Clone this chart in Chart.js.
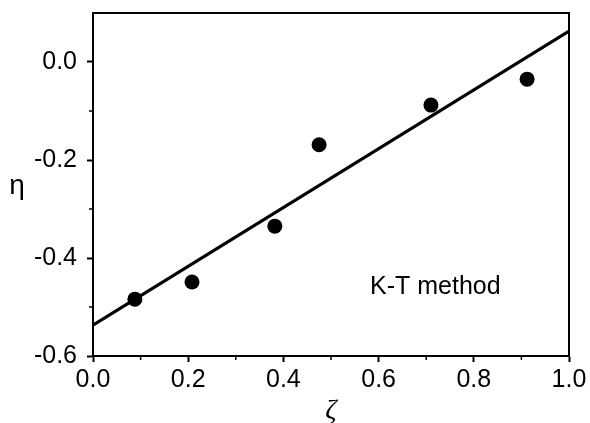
<!DOCTYPE html>
<html>
<head>
<meta charset="utf-8">
<script src="https://cdn.jsdelivr.net/npm/chart.js@4/dist/chart.umd.min.js"></script>
<style>
html,body{margin:0;padding:0;background:#fff;}
#wrap{width:590px;height:423px;}
</style>
</head>
<body>
<div id="wrap"><canvas id="c" width="590" height="423"></canvas></div>
<script>
const zeta = [0.088, 0.208, 0.382, 0.475, 0.710, 0.912];
const eta = [-0.484, -0.449, -0.335, -0.169, -0.088, -0.035];
const fitZeta = [0, 1];
const fitEta = [-0.537, 0.063];
const xTicks = [0.0, 0.2, 0.4, 0.6, 0.8, 1.0];
const xMinor = [0.1, 0.3, 0.5, 0.7, 0.9];
const yTicks = [-0.6, -0.4, -0.2, 0.0];
const yMinor = [-0.5, -0.3, -0.1];
const xLabel = 'ζ';
const yLabel = 'η';
const note = 'K-T method';

const fmt = v => (Math.abs(v) < 1e-9 ? 0 : v).toFixed(1);
const tickFont = {family: '"Liberation Sans", Arial, sans-serif', size: 25};

const extras = {
  id: 'extras',
  afterDraw(chart) {
    const ctx = chart.ctx, a = chart.chartArea;
    const xs = chart.scales.x, ys = chart.scales.y;
    ctx.save();
    ctx.strokeStyle = '#000';
    ctx.lineWidth = 2;
    ctx.beginPath();
    ctx.moveTo(a.left, a.top); ctx.lineTo(a.right, a.top); ctx.lineTo(a.right, a.bottom);
    ctx.stroke();
    ctx.lineWidth = 1.5;
    ctx.beginPath();
    xMinor.forEach(v => { const p = xs.getPixelForValue(v); ctx.moveTo(p, a.bottom); ctx.lineTo(p, a.bottom + 4); });
    yMinor.forEach(v => { const p = ys.getPixelForValue(v); ctx.moveTo(a.left, p); ctx.lineTo(a.left - 4, p); });
    ctx.stroke();
    ctx.fillStyle = '#000';
    ctx.textAlign = 'center';
    ctx.textBaseline = 'middle';
    ctx.font = 'italic 28px "Liberation Serif", serif';
    ctx.fillText(xLabel, (a.left + a.right) / 2, 411);
    ctx.font = '28px "Liberation Sans", Arial, sans-serif';
    ctx.fillText(yLabel, 17, 186);
    ctx.textAlign = 'left';
    ctx.textBaseline = 'alphabetic';
    ctx.font = '25px "Liberation Sans", Arial, sans-serif';
    ctx.fillText(note, 370, 294);
    ctx.restore();
  }
};

new Chart(document.getElementById('c'), {
  type: 'scatter',
  data: {
    datasets: [
      {
        data: zeta.map((x, i) => ({x, y: eta[i]})),
        pointRadius: 7.5,
        pointBackgroundColor: '#000',
        pointBorderColor: '#000',
        pointBorderWidth: 0,
        showLine: false
      },
      {
        data: fitZeta.map((x, i) => ({x, y: fitEta[i]})),
        showLine: true,
        borderColor: '#000',
        borderWidth: 3,
        pointRadius: 0,
        tension: 0
      }
    ]
  },
  options: {
    responsive: false,
    animation: false,
    devicePixelRatio: 1,
    layout: {padding: {left: 0, top: 13, right: 21, bottom: 0}},
    plugins: {legend: {display: false}, tooltip: {enabled: false}},
    scales: {
      x: {
        type: 'linear', min: 0, max: 1,
        afterBuildTicks: s => { s.ticks = xTicks.map(v => ({value: v})); },
        afterFit: s => { s.height = 67; s.paddingLeft = 0; s.paddingRight = 0; },
        ticks: {callback: v => fmt(v), font: tickFont, color: '#000', padding: 3, maxRotation: 0, autoSkip: false},
        grid: {drawOnChartArea: false, drawTicks: true, tickLength: 6, tickWidth: 2, tickColor: '#000'},
        border: {display: true, color: '#000', width: 2}
      },
      y: {
        type: 'linear', min: -0.6, max: 0.1,
        afterBuildTicks: s => { s.ticks = yTicks.map(v => ({value: v})); },
        afterFit: s => { s.width = 93; s.paddingTop = 0; s.paddingBottom = 0; },
        ticks: {callback: v => fmt(v), font: tickFont, color: '#000', padding: 10, autoSkip: false},
        grid: {drawOnChartArea: false, drawTicks: true, tickLength: 6, tickWidth: 2, tickColor: '#000'},
        border: {display: true, color: '#000', width: 2}
      }
    }
  },
  plugins: [extras]
});
</script>
</body>
</html>
